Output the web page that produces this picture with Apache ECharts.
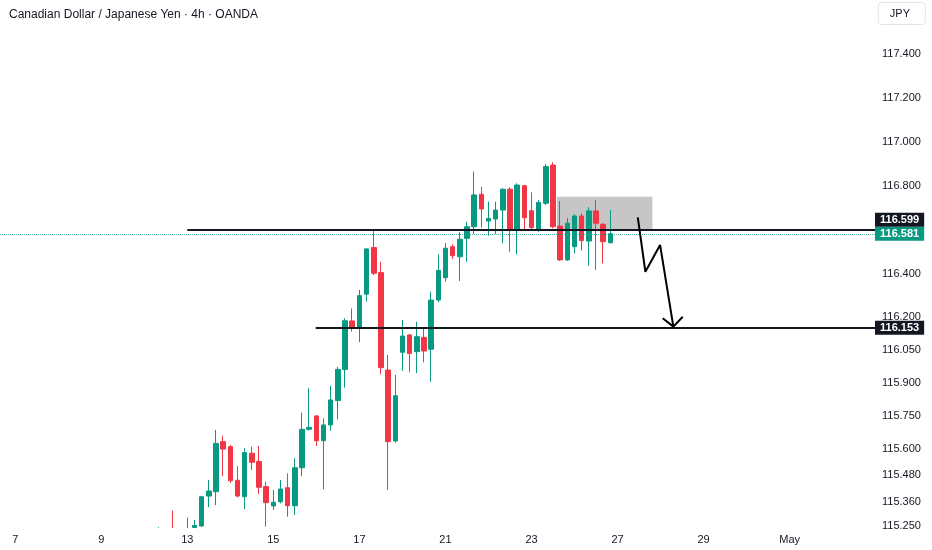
<!DOCTYPE html>
<html>
<head>
<meta charset="utf-8">
<script src="https://cdn.jsdelivr.net/npm/echarts@6/dist/echarts.min.js"></script>
<style>
html,body{margin:0;padding:0;background:#fff;}
#chart{width:932px;height:550px;}
</style>
</head>
<body>
<div id="chart"></div>
<script>
// ---- data (bar index: 0 = first 4h bar of day 13) ----
var barIndex = [-4,-2,0,1,2,3,4,5,6,7,8,9,10,11,12,13,14,15,16,17,18,19,20,21,22,23,24,25,26,27,28,29,30,31,32,33,34,35,36,37,38,39,40,41,42,43,44,45,46,47,48,49,50,51,52,53,54,55,56,57,58,59];
var opens  = [115.220,115.220,115.200,115.243,115.250,115.386,115.406,115.634,115.611,115.458,115.383,115.581,115.543,115.429,115.341,115.360,115.424,115.342,115.515,115.690,115.751,115.638,115.710,115.821,115.963,116.184,116.153,116.306,116.518,116.404,115.960,115.637,116.041,116.120,116.044,116.109,116.055,116.279,116.381,116.522,116.476,116.560,116.613,116.761,116.639,116.648,116.689,116.784,116.603,116.800,116.686,116.603,116.720,116.894,116.616,116.462,116.522,116.662,116.548,116.685,116.624,116.540];
var closes = [115.230,115.200,115.230,115.252,115.383,115.409,115.626,115.600,115.456,115.386,115.584,115.540,115.426,115.356,115.358,115.418,115.342,115.515,115.690,115.699,115.638,115.710,115.824,115.963,116.185,116.155,116.299,116.512,116.401,115.971,115.634,115.843,116.115,116.036,116.112,116.047,116.279,116.414,116.515,116.481,116.556,116.613,116.758,116.694,116.651,116.689,116.784,116.603,116.803,116.654,116.609,116.724,116.887,116.613,116.462,116.629,116.662,116.550,116.685,116.629,116.545,116.581];
var lows   = [115.200,115.180,115.180,115.235,115.245,115.335,115.345,115.477,115.446,115.380,115.326,115.505,115.395,115.247,115.323,115.353,115.292,115.300,115.477,115.684,115.614,115.417,115.684,115.736,115.880,116.135,116.087,116.272,116.393,115.941,115.414,115.630,115.956,115.950,115.946,115.995,115.907,116.270,116.363,116.466,116.366,116.454,116.580,116.609,116.572,116.579,116.538,116.499,116.487,116.598,116.594,116.590,116.712,116.606,116.457,116.457,116.492,116.504,116.436,116.416,116.446,116.538];
var highs  = [115.244,115.320,115.288,115.277,115.386,115.459,115.687,115.661,115.619,115.522,115.604,115.611,115.614,115.452,115.414,115.459,115.489,115.558,115.766,115.877,115.755,115.740,115.888,115.974,116.196,116.241,116.325,116.515,116.603,116.454,116.029,115.938,116.188,116.124,116.180,116.153,116.317,116.487,116.538,116.533,116.588,116.636,116.864,116.795,116.727,116.727,116.788,116.793,116.811,116.803,116.770,116.735,116.898,116.907,116.730,116.652,116.670,116.674,116.702,116.735,116.629,116.689];

var dayLabels   = ['7','9','13','15','17','21','23','27','29','May'];
var dayBarIndex = [-24,-12,0,12,24,36,48,60,72,84];
var priceTicks  = [117.4,117.2,117.0,116.8,116.4,116.2,116.05,115.9,115.75,115.6,115.48,115.36,115.25];

var resistance = 116.599, support = 116.153, lastPrice = 116.581;
var resistanceStart = 0, supportStart = 17.9;
var zoneX = [51.55, 64.85], zoneY = [116.600, 116.750];
var arrowPath = [[62.82,116.656],[63.88,116.408],[65.93,116.530],[67.78,116.158]];
var arrowHead = [[66.30,116.196],[67.78,116.158],[69.09,116.203]];

var xMin = -26.12, xMax = 95.9;
var yMin = 115.2405, yMax = 117.646;

var UP = '#089981', DOWN = '#F23645', INK = '#131722';
var candles = barIndex.map(function (x, i) { return [x, opens[i], closes[i], lows[i], highs[i]]; });

function priceLabel(text, bg, dy) {
  return {
    show: true, position: 'end', distance: 0, formatter: text,
    backgroundColor: bg, color: '#fff', fontSize: 11, fontWeight: 'bold',
    fontFamily: 'Liberation Sans', padding: [2, 5, 1, 5], offset: [0, dy], opacity: 1
  };
}

var chart = echarts.init(document.getElementById('chart'));
chart.setOption({
  animation: false,
  backgroundColor: '#ffffff',
  title: [
    { text: 'Canadian Dollar / Japanese Yen · 4h · OANDA', left: 4, top: 4,
      textStyle: { fontSize: 12, fontWeight: 'normal', color: INK, fontFamily: 'Liberation Sans' } },
    { text: 'JPY', right: 6, top: 2, borderColor: '#e0e3eb', borderWidth: 1, borderRadius: 3,
      padding: [6, 16, 6, 12],
      textStyle: { fontSize: 11, fontWeight: 'normal', color: INK, fontFamily: 'Liberation Sans' } }
  ],
  grid: { left: 0, right: 57, top: 0, bottom: 22 },
  graphic: [
    // time-scale pane covers anything drawn below the price pane
    { type: 'rect', left: 0, bottom: 0, z: 3, silent: true,
      shape: { width: 875, height: 22 }, style: { fill: '#ffffff' } }
  ],
  xAxis: {
    type: 'value', min: xMin, max: xMax, z: 10,
    axisLine: { show: false }, axisTick: { show: false }, splitLine: { show: false },
    axisLabel: {
      customValues: dayBarIndex, margin: 6, fontSize: 11, color: INK, fontFamily: 'Liberation Sans',
      formatter: function (v) { var k = dayBarIndex.indexOf(v); return k >= 0 ? dayLabels[k] : ''; }
    }
  },
  yAxis: {
    type: 'value', position: 'right', min: yMin, max: yMax,
    axisLine: { show: false }, axisTick: { show: false }, splitLine: { show: false },
    axisLabel: {
      customValues: priceTicks, margin: 7, fontSize: 11, color: INK, fontFamily: 'Liberation Sans',
      formatter: function (v) { return v.toFixed(3); }
    }
  },
  series: [
    {
      type: 'candlestick', data: candles, encode: { x: 0, y: [1, 2, 3, 4] },
      barWidth: 5, clip: true,
      itemStyle: { color: UP, color0: DOWN, borderColor: UP, borderColor0: DOWN, borderWidth: 1 },
      markArea: {
        silent: true,
        itemStyle: { color: 'rgba(128,128,128,0.45)' },
        data: [[{ coord: [zoneX[0], zoneY[1]] }, { coord: [zoneX[1], zoneY[0]] }]]
      },
      markLine: {
        silent: true, symbol: ['none', 'none'], animation: false,
        data: [
          [{ coord: [xMin, lastPrice], lineStyle: { color: 'rgba(8,153,129,0.7)', width: 1, type: 'dotted' }, label: priceLabel(lastPrice.toFixed(3), UP, 0) },
           { coord: [xMax, lastPrice] }],
          [{ coord: [resistanceStart, resistance], lineStyle: { color: INK, width: 2, type: 'solid' }, label: priceLabel(resistance.toFixed(3), INK, -10) },
           { coord: [xMax, resistance] }],
          [{ coord: [supportStart, support], lineStyle: { color: INK, width: 2, type: 'solid' }, label: priceLabel(support.toFixed(3), INK, 0) },
           { coord: [xMax, support] }]
        ]
      }
    },
    { type: 'line', data: arrowPath, symbol: 'none', silent: true, lineStyle: { color: '#000', width: 2 }, z: 5 },
    { type: 'line', data: arrowHead, symbol: 'none', silent: true, lineStyle: { color: '#000', width: 2 }, z: 5 }
  ]
});
</script>
</body>
</html>
